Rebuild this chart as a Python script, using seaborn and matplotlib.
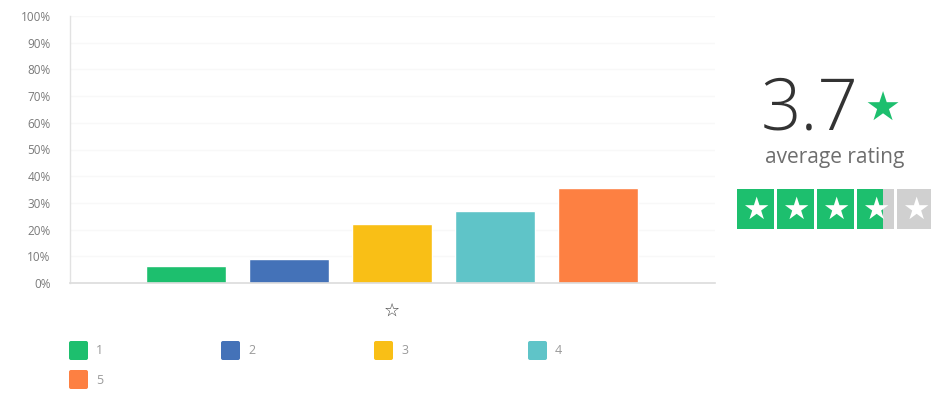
import matplotlib
matplotlib.use("Agg")
import matplotlib.pyplot as plt
from matplotlib.patches import Rectangle, FancyBboxPatch
import seaborn as sns
import pandas as pd
import numpy as np

# Share of reviews per star rating
ratings = ["1", "2", "3", "4", "5"]
shares = [6.5, 9.0, 22.0, 27.0, 35.5]
colors = ["#1dbf6e", "#4472b8", "#f9bf16", "#5fc4c8", "#fd8042"]
y_ticks = [0, 10, 20, 30, 40, 50, 60, 70, 80, 90, 100]
y_tick_labels = [f"{t}%" for t in y_ticks]
average_rating = 3.7

W, H = 931, 400
sns.set_theme(style="white")
plt.rcParams["font.family"] = ["Open Sans", "DejaVu Sans"]

fig = plt.figure(figsize=(W / 100, H / 100), dpi=100)
fig.patch.set_facecolor("white")

# Main bar chart
ax = fig.add_axes([70 / W, (H - 283) / H, 645 / W, 267 / H])
df = pd.DataFrame({"rating": ratings, "share": shares})
sns.barplot(data=df, x="rating", y="share", hue="rating", palette=colors,
            width=0.77, legend=False, ax=ax, saturation=1)
ax.set_xlim(-1.126, 5.136)
ax.set_ylim(0, 100)
ax.set_yticks(y_ticks)
ax.set_yticklabels(y_tick_labels, fontsize=8.5, color="#7a7a7a")
ax.tick_params(axis="y", length=0, pad=14)
ax.set_xticks([])
ax.set_ylabel("")
ax.set_xlabel("☆", fontsize=13, color="#444444", family="DejaVu Sans", labelpad=10)
ax.xaxis.set_label_coords((2 + 1.126) / (5.136 + 1.126), -0.07)
for y in y_ticks[1:]:
    ax.axhline(y, color="#f8f8f8", lw=1, zorder=0)
for side in ["top", "right"]:
    ax.spines[side].set_visible(False)
ax.spines["left"].set_color("#e2e2e2")
ax.spines["bottom"].set_color("#dcdcdc")
ax.spines["left"].set_linewidth(1)
ax.spines["bottom"].set_linewidth(1.2)

# Overlay in pixel coordinates for the legend and the rating panel
ov = fig.add_axes([0, 0, 1, 1])
ov.set_xlim(0, W)
ov.set_ylim(H, 0)
ov.axis("off")
ov.patch.set_alpha(0)

# Legend: four per row
leg_x = [68, 220, 373, 527]
for i, (r, c) in enumerate(zip(ratings, colors)):
    row, col = divmod(i, 4)
    x0 = leg_x[col]
    y0 = 340 + row * 29
    ov.add_patch(FancyBboxPatch((x0 + 1, y0 + 1), 19, 19,
                                boxstyle="round,pad=0,rounding_size=2",
                                fc=c, ec="none"))
    ov.text(x0 + 28, y0 + 11, r, fontsize=9, color="#9a9a9a",
            ha="left", va="center")

# Rating panel
ov.text(859, 130, f"{average_rating}", fontsize=51, fontweight="light",
        color="#333333", ha="right", va="baseline")
ov.text(882, 110, "★", fontsize=29, color="#1dbf6e", ha="center",
        va="center", family="DejaVu Sans")
ov.text(835, 158, "average rating", fontsize=15, color="#6e6e6e",
        ha="center", va="center")

box_w, gap = 37, 3
for k in range(5):
    x0 = 737 + k * (box_w + gap)
    fill = np.clip(average_rating - k, 0, 1)
    ov.add_patch(Rectangle((x0, 189), box_w, 40, fc="#d0d0d0", ec="none"))
    if fill > 0:
        ov.add_patch(Rectangle((x0, 189), box_w * fill, 40, fc="#1dbf6e", ec="none"))
    ov.text(x0 + box_w / 2, 210, "★", fontsize=22, color="white",
            ha="center", va="center", family="DejaVu Sans")

fig.savefig("out.png", dpi=100, facecolor="white")
